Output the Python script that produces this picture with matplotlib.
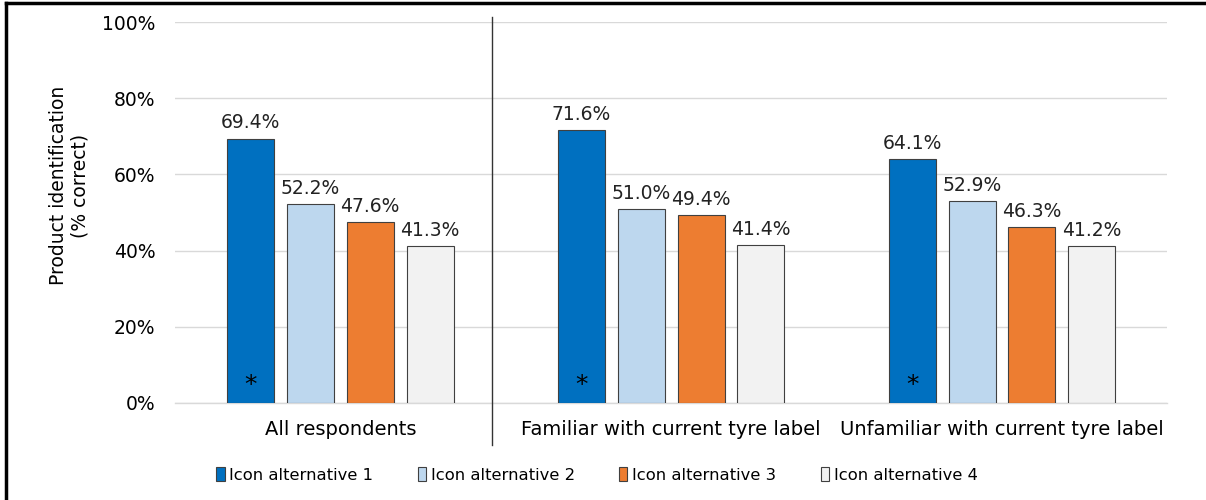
import matplotlib.pyplot as plt
import numpy as np
from matplotlib.lines import Line2D

groups = ["All respondents", "Familiar with current tyre label", "Unfamiliar with current tyre label"]
series = ["Icon alternative 1", "Icon alternative 2", "Icon alternative 3", "Icon alternative 4"]
alt1 = [0.694, 0.716, 0.641]
alt2 = [0.522, 0.510, 0.529]
alt3 = [0.476, 0.494, 0.463]
alt4 = [0.413, 0.414, 0.412]
significant = [True, True, True]  # asterisk on alternative 1
colors = ["#0070C0", "#BDD7EE", "#ED7D31", "#F2F2F2"]

plt.rcParams['font.family'] = ['DejaVu Sans']

fig = plt.figure(figsize=(12.06, 5.0), dpi=100)
ax = fig.add_axes([0.145, 0.194, 0.823, 0.762])

x = np.arange(len(groups))
width = 0.142
step = 0.181
values = [alt1, alt2, alt3, alt4]
for i, (vals, col, name) in enumerate(zip(values, colors, series)):
    pos = x + (i - 1.5) * step
    ax.bar(pos, vals, width, color=col, edgecolor="#404040", linewidth=0.8,
           label=name, zorder=3)
    for p, v in zip(pos, vals):
        ax.text(p, v + 0.016, f"{v*100:.1f}%", ha="center", va="bottom",
                fontsize=13.5, color="#222222")
    if i == 0:
        for p, s in zip(pos, significant):
            if s:
                ax.text(p, 0.015, "*", ha="center", va="bottom", fontsize=18,
                        color="black", zorder=4)

ax.set_xlim(-0.5, 2.5)
ax.set_ylim(0, 1)
ax.set_yticks(np.arange(0, 1.01, 0.2))
ax.set_yticklabels([f"{int(t*100)}%" for t in np.arange(0, 1.01, 0.2)], fontsize=13.5)
ax.set_xticks(x)
ax.set_xticklabels(groups, fontsize=14)
ax.tick_params(length=0, pad=12)
ax.tick_params(axis="y", pad=14)
ax.grid(axis="y", color="#D9D9D9", linewidth=1, zorder=0)
ax.axhline(0, color="#D9D9D9", linewidth=1, zorder=1, clip_on=False)
for sp in ax.spines.values():
    sp.set_visible(False)
ax.set_ylabel("Product identification\n(% correct)", fontsize=13.5)
ax.yaxis.set_label_coords(-0.086, 0.57)

# separator between first group and subgroups
ax.plot([0.46, 0.46], [1.013, -0.11], color="#333333", linewidth=1,
        clip_on=False, zorder=5)

fig.legend(loc="lower center", bbox_to_anchor=(0.495, 0.005), ncol=4, frameon=False,
           fontsize=11.8, handlelength=0.5, handleheight=0.9, handletextpad=0.3,
           columnspacing=2.7)

# outer frame (partially cropped in the reference)
fig.add_artist(Line2D([0.005, 0.005], [0, 0.994], transform=fig.transFigure,
                      color="black", linewidth=2.5))
fig.add_artist(Line2D([0.005, 1.0], [0.994, 0.994], transform=fig.transFigure,
                      color="black", linewidth=2.5))

fig.savefig("out.png", dpi=100)
